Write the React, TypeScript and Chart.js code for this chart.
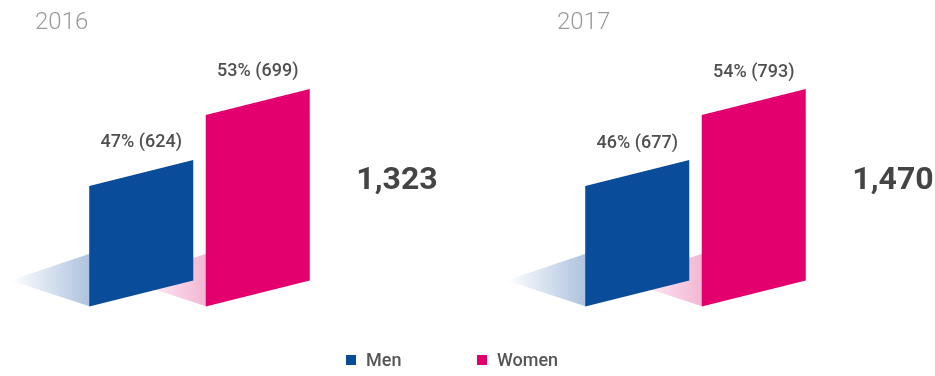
import React, { useEffect, useRef } from "react";
import { Chart, registerables } from "chart.js";

Chart.register(...registerables);

const years = ["2016", "2017"];
const categories = ["Men", "Women"];
const menPct = [47, 46];
const womenPct = [53, 54];
const menCount = [624, 677];
const womenCount = [699, 793];
const totals = ["1,323", "1,470"];

const BLUE = "#094c9a";
const PINK = "#e3006e";
const SHADOW = ["rgba(160,185,218,", "rgba(240,170,203,"];

const panels = [
  { left: 0, titleX: 35, yMin: 36.8, yMax: 57.65 },
  { left: 496, titleX: 61, yMin: 32.42, yMax: 60.2 },
];

const SKEW = 26;

function Panel({ idx }: { idx: number }) {
  const ref = useRef<HTMLCanvasElement>(null);
  useEffect(() => {
    const p = panels[idx];
    const vals = [menPct[idx], womenPct[idx]];
    const counts = [menCount[idx], womenCount[idx]];
    const colors = [BLUE, PINK];
    const plugin = {
      id: "skewBars",
      beforeDatasetsDraw(chart: any) {
        const ctx = chart.ctx;
        const ys = chart.scales.y;
        const b = ys.getPixelForValue(ys.min);
        const meta = chart.getDatasetMeta(0);
        const els = meta.data.map((e: any) => e.getProps(["x", "y", "width"], true));
        ctx.save();
        // shadows
        els.forEach((e: any, i: number) => {
          const x0 = e.x - e.width / 2;
          const g = ctx.createLinearGradient(x0 - 79, 0, x0, 0);
          g.addColorStop(0, SHADOW[i] + "0)");
          g.addColorStop(1, SHADOW[i] + "0.85)");
          ctx.fillStyle = g;
          ctx.beginPath();
          ctx.moveTo(x0 + 1, b);
          ctx.lineTo(x0 - 79, b - 26);
          ctx.lineTo(x0 + 1, b - 53);
          ctx.closePath();
          ctx.fill();
        });
        // bars
        els.forEach((e: any, i: number) => {
          const x0 = e.x - e.width / 2;
          const x1 = e.x + e.width / 2;
          ctx.fillStyle = colors[i];
          ctx.beginPath();
          ctx.moveTo(x0, b);
          ctx.lineTo(x0, e.y);
          ctx.lineTo(x1, e.y - SKEW);
          ctx.lineTo(x1, b - SKEW);
          ctx.closePath();
          ctx.fill();
        });
        // labels
        ctx.fillStyle = "#505050";
        ctx.font = "500 18px Roboto";
        ctx.textAlign = "center";
        ctx.textBaseline = "middle";
        els.forEach((e: any, i: number) => {
          ctx.fillText(`${vals[i]}% (${counts[i]})`, e.x, e.y - SKEW - 17);
        });
        // total
        ctx.fillStyle = "#444444";
        ctx.font = "bold 32px Roboto";
        ctx.fillText(totals[idx], chart.chartArea.right + 81, 181);
        // title
        ctx.fillStyle = "#9a9a9a";
        ctx.font = "300 24px Roboto";
        ctx.textAlign = "left";
        ctx.fillText(years[idx], p.titleX, 23);
        ctx.restore();
        return false;
      },
    };
    const chart = new Chart(ref.current!, {
      type: "bar",
      data: {
        labels: categories,
        datasets: [
          {
            data: vals,
            backgroundColor: colors,
            barPercentage: 0.893,
            categoryPercentage: 1,
          },
        ],
      },
      options: {
        animation: false,
        responsive: false,
        maintainAspectRatio: false,
        layout: { padding: { left: 83, right: 123, top: 60, bottom: 69.5 } },
        plugins: { legend: { display: false }, tooltip: { enabled: false } },
        scales: {
          x: { display: false, offset: true },
          y: { display: false, min: p.yMin, max: p.yMax },
        },
      },
      plugins: [plugin],
    });
    return () => chart.destroy();
  }, [idx]);
  return (
    <canvas
      ref={ref}
      width={439}
      height={376}
      style={{ position: "absolute", left: panels[idx].left, top: 0, width: 439, height: 376 }}
    />
  );
}

export default function App() {
  const legendText: React.CSSProperties = {
    position: "absolute",
    top: 350,
    fontFamily: "Roboto",
    fontSize: 18,
    fontWeight: 500,
    lineHeight: "20px",
    color: "#555",
  };
  const sq: React.CSSProperties = { position: "absolute", top: 355, width: 10, height: 10 };
  return (
    <div
      style={{
        position: "fixed",
        left: 0,
        top: 0,
        width: 935,
        height: 376,
        background: "#fff",
        overflow: "hidden",
      }}
    >
      <Panel idx={0} />
      <Panel idx={1} />
      <div style={{ ...sq, left: 346, background: BLUE }} />
      <div style={{ ...legendText, left: 366 }}>{categories[0]}</div>
      <div style={{ ...sq, left: 477, background: PINK }} />
      <div style={{ ...legendText, left: 497 }}>{categories[1]}</div>
    </div>
  );
}
